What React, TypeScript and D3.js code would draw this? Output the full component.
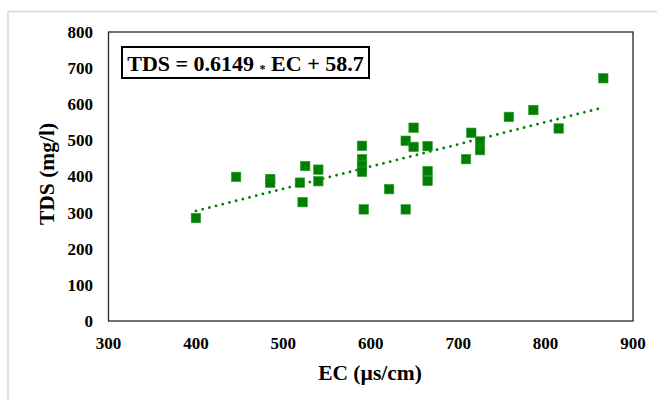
import React from "react";
import * as d3 from "d3";

const ecValues = [400, 446, 485, 485, 519, 525, 522, 540, 540, 590, 590, 590, 590, 592, 621, 640, 640, 649, 649, 665, 665, 665, 709, 715, 725, 725, 758, 786, 815, 866];
const tdsValues = [285, 399, 393, 383, 383, 429, 329, 419, 387, 485, 448, 430, 413, 309, 365, 499, 309, 535, 482, 484, 415, 388, 448, 521, 497, 473, 565, 584, 533, 672];
const xTicks = [300, 400, 500, 600, 700, 800, 900];
const yTicks = [0, 100, 200, 300, 400, 500, 600, 700, 800];
const slope = 0.6149;
const intercept = 58.7;

const W = 657;
const H = 401;
const GREEN = "#008000";
const FONT = "'Liberation Serif', 'Times New Roman', serif";

export default function App() {
  const x = d3.scaleLinear().domain([300, 900]).range([108.5, 633]);
  const y = d3.scaleLinear().domain([0, 800]).range([321, 32]);
  const [xmin, xmax] = d3.extent(ecValues) as [number, number];
  const line = d3
    .line<number>()
    .x((d) => x(d))
    .y((d) => y(slope * d + intercept));
  const sz = 9.5;
  return (
    <svg
      width={W}
      height={H}
      style={{ position: "absolute", left: 0, top: 0, background: "#fff" }}
      fontFamily={FONT}
    >
      <rect x={0} y={0} width={W} height={H} fill="#fff" />
      <rect x={8} y={11.5} width={W + 50} height={H + 50} fill="#fff" stroke="#d9d9d9" strokeWidth={1.5} />
      <rect x={x(300)} y={y(800)} width={x(900) - x(300)} height={y(0) - y(800)} fill="none" stroke="#262626" strokeWidth={1.3} />
      {yTicks.map((t) => (
        <text key={"y" + t} x={93} y={y(t)} dy="0.35em" textAnchor="end" fontSize={17} fontWeight="bold" fill="#000">
          {t}
        </text>
      ))}
      {xTicks.map((t) => (
        <text key={"x" + t} x={x(t)} y={349} textAnchor="middle" fontSize={17} fontWeight="bold" fill="#000">
          {t}
        </text>
      ))}
      <text x={370} y={380} textAnchor="middle" fontSize={21.5} fontWeight="bold" fill="#000">
        EC (µs/cm)
      </text>
      <text transform="translate(54,174) rotate(-90)" textAnchor="middle" fontSize={21.5} fontWeight="bold" fill="#000">
        TDS (mg/l)
      </text>
      <path d={line([xmin, xmax]) || ""} fill="none" stroke={GREEN} strokeWidth={2.8} strokeLinecap="round" strokeDasharray="0.01 6.9" />
      {ecValues.map((ec, i) => (
        <rect
          key={"p" + i}
          x={x(ec) - sz / 2}
          y={y(tdsValues[i]) - sz / 2}
          width={sz}
          height={sz}
          fill={GREEN}
          stroke="#3a9a3a"
          strokeWidth={0.6}
        />
      ))}
      <rect x={122} y={47} width={247} height={31} fill="#fff" stroke="#000" strokeWidth={2} />
      <text x={245.5} y={71} textAnchor="middle" fontSize={22} fontWeight="bold" fill="#000">
        {"TDS = 0.6149 "}
        <tspan fontSize={12} dy={2}>*</tspan>
        <tspan dy={-2}>{" EC + 58.7"}</tspan>
      </text>
    </svg>
  );
}
